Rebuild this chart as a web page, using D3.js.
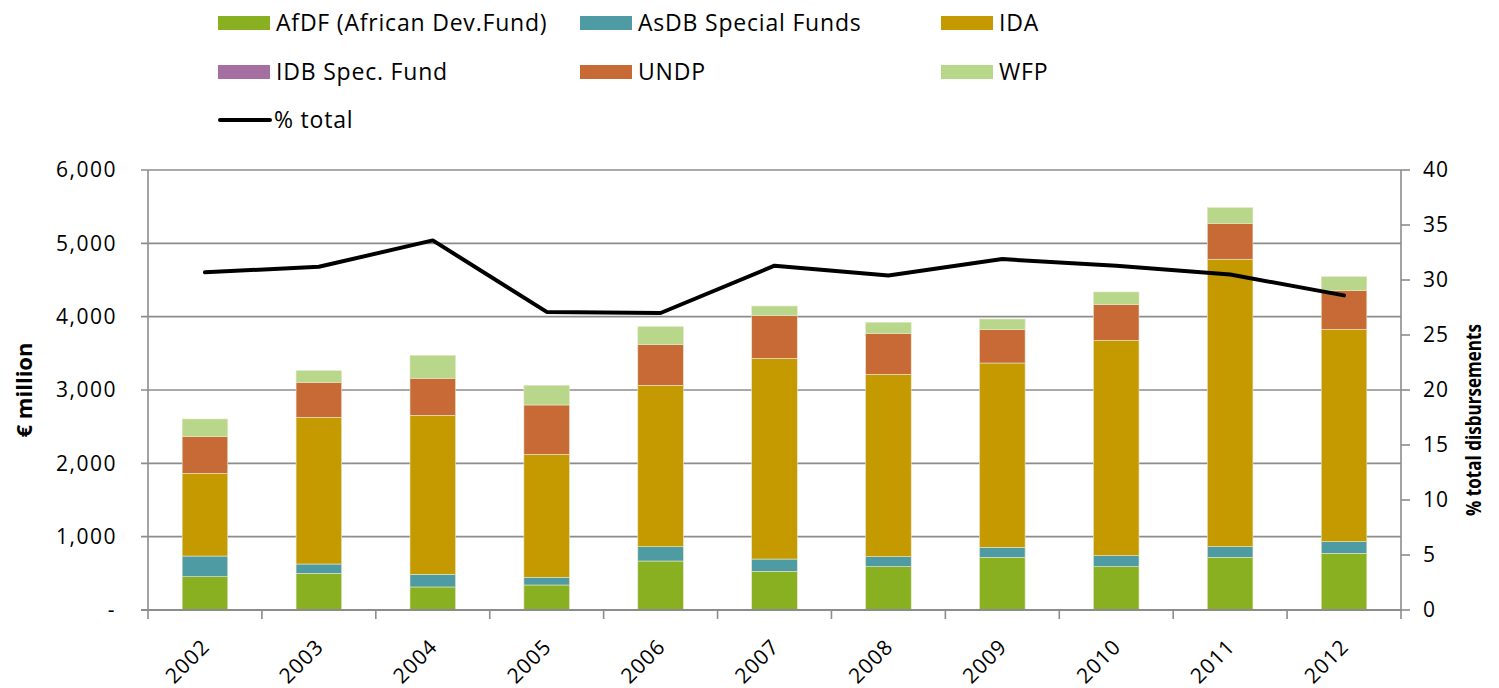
<!DOCTYPE html>
<html>
<head>
<meta charset="utf-8">
<script src="https://cdn.jsdelivr.net/npm/d3@7"></script>
<style>
  body { margin: 0; background: #fff; }
  text { font-family: "Open Sans", "Noto Sans", sans-serif; fill: #000; }
</style>
</head>
<body>
<div id="chart"></div>
<script>
// data (€ million, share of total in %)
var years = ["2002", "2003", "2004", "2005", "2006", "2007", "2008", "2009", "2010", "2011", "2012"];
var afdf = [454, 500, 314, 341, 668, 527, 591, 718, 591, 718, 773];
var asdb = [282, 127, 173, 105, 195, 168, 136, 137, 150, 146, 159];
var ida  = [1128, 2001, 2168, 1677, 2201, 2737, 2487, 2513, 2937, 3919, 2896];
var idb  = [0, 0, 0, 0, 0, 0, 0, 0, 0, 0, 0];
var undp = [500, 477, 505, 673, 554, 582, 559, 455, 486, 490, 527];
var wfp  = [241, 159, 313, 268, 246, 131, 150, 145, 173, 214, 191];
var pctTotal = [30.7, 31.2, 33.6, 27.1, 27.0, 31.3, 30.4, 31.9, 31.3, 30.5, 28.6];

var seriesNames = ["AfDF (African Dev.Fund)", "AsDB Special Funds", "IDA", "IDB Spec. Fund", "UNDP", "WFP"];
var seriesColors = ["#89b021", "#4f9ba3", "#c49a00", "#a56fa2", "#c86a36", "#b8d78b"];
var leftTicks = [0, 1000, 2000, 3000, 4000, 5000, 6000];
var rightTicks = [0, 5, 10, 15, 20, 25, 30, 35, 40];

var W = 1499, H = 688;
var margin = { left: 148, right: 98, top: 170, bottom: 78 };

var svg = d3.select("#chart").append("svg")
    .attr("width", W)
    .attr("height", H);

// build rows for the stack
var keys = ["afdf", "asdb", "ida", "idb", "undp", "wfp"];
var cols = [afdf, asdb, ida, idb, undp, wfp];
var rows = years.map(function (y, i) {
    var r = { year: y };
    keys.forEach(function (k, j) { r[k] = cols[j][i]; });
    return r;
});
var stacked = d3.stack().keys(keys)(rows);

var x = d3.scaleBand()
    .domain(years)
    .range([margin.left, W - margin.right])
    .paddingInner(0.6)
    .paddingOuter(0.3);

var xb = d3.scaleBand().domain(years).range([margin.left, W - margin.right]);

var y = d3.scaleLinear().domain([0, 6000]).range([H - margin.bottom, margin.top]);
var y2 = d3.scaleLinear().domain([0, 40]).range([H - margin.bottom, margin.top]);

// gridlines
svg.append("g")
    .selectAll("line")
    .data(leftTicks)
    .enter()
    .append("line")
    .attr("x1", margin.left - 7)
    .attr("x2", W - margin.right)
    .attr("y1", function (d) { return y(d); })
    .attr("y2", function (d) { return y(d); })
    .style("stroke", "#8c8c8c")
    .style("stroke-width", 1.6);

// bars
svg.append("g")
    .selectAll("g")
    .data(stacked)
    .enter()
    .append("g")
    .style("fill", function (d, i) { return seriesColors[i]; })
    .selectAll("rect")
    .data(function (d) { return d; })
    .enter()
    .append("rect")
    .attr("x", function (d) { return x(d.data.year); })
    .attr("width", x.bandwidth())
    .attr("y", function (d) { return y(d[1]); })
    .attr("height", function (d) { return y(d[0]) - y(d[1]); })
    .style("stroke", "#e6e6c8")
    .style("stroke-width", 0.6);

// left axis line
svg.append("line")
    .attr("x1", margin.left).attr("x2", margin.left)
    .attr("y1", margin.top).attr("y2", H - margin.bottom)
    .style("stroke", "#8c8c8c").style("stroke-width", 1.6);

// right axis line + ticks
svg.append("line")
    .attr("x1", W - margin.right).attr("x2", W - margin.right)
    .attr("y1", margin.top).attr("y2", H - margin.bottom)
    .style("stroke", "#8c8c8c").style("stroke-width", 1.6);

svg.append("g")
    .selectAll("line")
    .data(rightTicks)
    .enter()
    .append("line")
    .attr("x1", W - margin.right)
    .attr("x2", W - margin.right + 9)
    .attr("y1", function (d) { return y2(d); })
    .attr("y2", function (d) { return y2(d); })
    .style("stroke", "#8c8c8c")
    .style("stroke-width", 1.6);

// bottom axis line + ticks at band boundaries
svg.append("line")
    .attr("x1", margin.left - 7).attr("x2", W - margin.right)
    .attr("y1", y(0)).attr("y2", y(0))
    .style("stroke", "#8c8c8c").style("stroke-width", 2);

var boundaries = years.map(function (d) { return xb(d); }).concat([W - margin.right]);
svg.append("g")
    .selectAll("line")
    .data(boundaries)
    .enter()
    .append("line")
    .attr("x1", function (d) { return d; })
    .attr("x2", function (d) { return d; })
    .attr("y1", y(0))
    .attr("y2", y(0) + 9)
    .style("stroke", "#8c8c8c")
    .style("stroke-width", 1.6);

// left tick labels
svg.append("g")
    .selectAll("text")
    .data(leftTicks)
    .enter()
    .append("text")
    .attr("x", function (d) { return d === 0 ? 116 : 117; })
    .attr("y", function (d) { return y(d); })
    .attr("dy", "0.35em")
    .style("text-anchor", "end")
    .style("font-size", "21px")
    .style("letter-spacing", "1.5px")
    .text(function (d) { return d === 0 ? "-" : d3.format(",")(d); });

// right tick labels
svg.append("g")
    .selectAll("text")
    .data(rightTicks)
    .enter()
    .append("text")
    .attr("x", W - margin.right + 22)
    .attr("y", function (d) { return y2(d); })
    .attr("dy", "0.35em")
    .style("font-size", "21px")
    .style("letter-spacing", "1px")
    .text(function (d) { return d; });

// x labels rotated
svg.append("g")
    .selectAll("text")
    .data(years)
    .enter()
    .append("text")
    .attr("transform", function (d) {
        var cx = xb(d) + xb.bandwidth() / 2 + 6;
        return "translate(" + cx + "," + (y(0) + 38) + ") rotate(-45)";
    })
    .style("text-anchor", "end")
    .style("font-size", "21px")
    .style("letter-spacing", "1px")
    .text(function (d) { return d; });

// axis titles
svg.append("text")
    .attr("transform", "translate(32," + ((margin.top + H - margin.bottom) / 2) + ") rotate(-90)")
    .style("text-anchor", "middle")
    .style("font-size", "21px")
    .style("font-weight", "bold")
    .attr("textLength", 95)
    .attr("lengthAdjust", "spacingAndGlyphs")
    .text("€ million");

svg.append("text")
    .attr("transform", "translate(1481," + ((margin.top + H - margin.bottom) / 2 + 30) + ") rotate(-90)")
    .style("text-anchor", "middle")
    .style("font-size", "21px")
    .style("font-weight", "bold")
    .attr("textLength", 192)
    .attr("lengthAdjust", "spacingAndGlyphs")
    .text("% total disbursements");

// % total line
var line = d3.line()
    .x(function (d, i) { return xb(years[i]) + xb.bandwidth() / 2; })
    .y(function (d) { return y2(d); });

svg.append("path")
    .datum(pctTotal)
    .attr("d", line)
    .style("fill", "none")
    .style("stroke", "#000")
    .style("stroke-width", 4)
    .style("stroke-linejoin", "round")
    .style("stroke-linecap", "round");

// legend
var legendX = [218, 580, 941];
var legendY = [23, 72];
var legend = svg.append("g");
seriesNames.forEach(function (name, i) {
    var lx = legendX[i % 3], ly = legendY[Math.floor(i / 3)];
    legend.append("rect")
        .attr("x", lx).attr("y", ly - 7)
        .attr("width", 52).attr("height", 14)
        .style("fill", seriesColors[i]);
    legend.append("text")
        .attr("x", lx + 58).attr("y", ly)
        .attr("dy", "0.35em")
        .style("font-size", "23px")
        .style("letter-spacing", "0.8px")
        .text(name);
});
legend.append("line")
    .attr("x1", 220).attr("x2", 270)
    .attr("y1", 120).attr("y2", 120)
    .style("stroke", "#000").style("stroke-width", 4)
    .style("stroke-linecap", "round");
legend.append("text")
    .attr("x", 274).attr("y", 120)
    .attr("dy", "0.35em")
    .style("font-size", "23px")
    .style("letter-spacing", "0.8px")
    .text("% total");
</script>
</body>
</html>
